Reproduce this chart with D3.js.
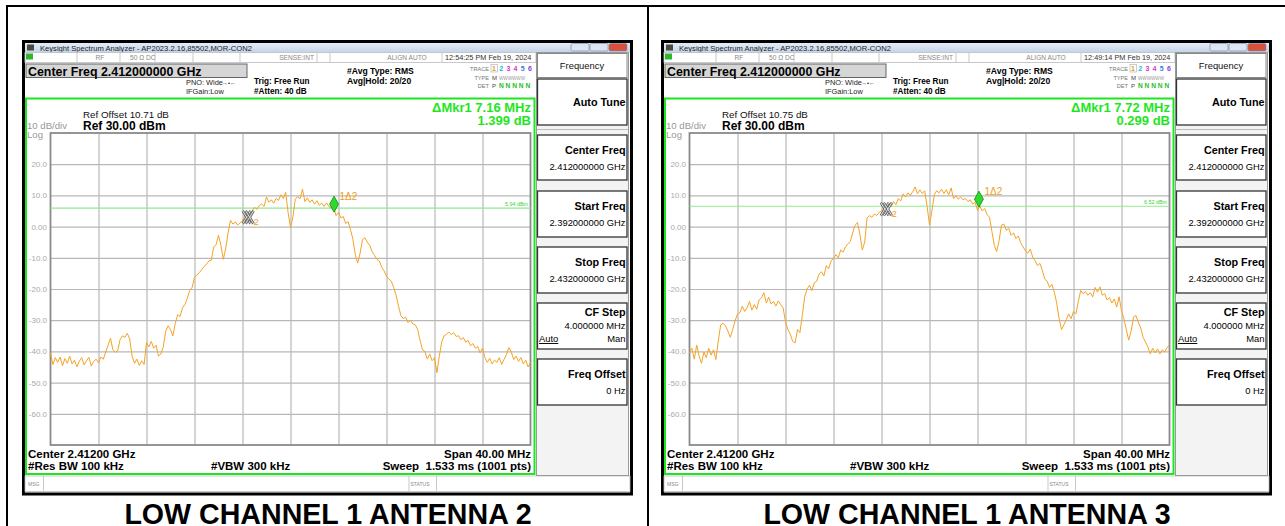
<!DOCTYPE html>
<html>
<head>
<meta charset="utf-8">
<script src="https://cdn.jsdelivr.net/npm/d3@7"></script>
<style>
  body { margin: 0; background: #fff; }
  text { font-family: "Liberation Sans", Arial, sans-serif; }
</style>
</head>
<body>
<div id="chart"></div>
<script>
// Sweep: 2.392 GHz .. 2.432 GHz, values read every 0.2 MHz
const startMHz = 0;
const stopMHz = 40;
const stepMHz = 0.2;

// trace levels (dBm), antenna 2
const levelsAnt2 = [
  -40.5, -44.2, -42.0, -43.5, -41.8, -44.6, -42.3, -43.8, -41.5, -44.0,
  -42.8, -44.9, -43.1, -42.0, -44.3, -43.0, -41.9, -44.7, -43.2, -42.5,
  -43.6, -41.8, -42.5, -40.2, -38.0, -35.8, -39.5, -40.3, -39.8, -36.2,
  -35.0, -35.5, -34.2, -36.0, -41.5, -43.8, -42.5, -44.5, -43.0, -44.2,
  -37.2, -38.5, -36.8, -39.0, -38.0, -41.5, -40.8, -38.5, -33.5, -31.8,
  -33.0, -35.0, -31.0, -28.2, -28.8, -26.0, -25.0, -23.0, -20.5, -19.5,
  -16.2, -15.5, -14.8, -13.8, -12.8, -12.0, -11.0, -10.8, -6.5, -5.8,
  -2.8, -6.0, -10.5, -7.0, -2.0, 2.0, 0.8, 1.5, 0.5, 1.2,
  1.8, 3.5, 2.8, 4.5, 5.0, 6.2, 5.5, 6.8, 7.2, 6.5,
  9.5, 7.8, 8.6, 7.5, 9.0, 8.4, 10.2, 9.0, 11.0, 4.5,
  -0.3, 3.0, 8.8, 9.6, 8.9, 12.0, 8.0, 9.2, 7.8, 8.6,
  7.2, 8.3, 6.8, 7.5, 6.5, 7.6, 6.4, 6.0, 6.2, 3.5,
  4.6, 2.8, 3.2, 1.0, 1.6, -1.0, -4.0, -9.0, -11.7, -8.5,
  -4.2, -3.6, -5.0, -6.0, -8.0, -9.2, -10.5, -11.0, -13.0, -14.2,
  -16.0, -16.8, -17.5, -19.5, -22.0, -25.5, -28.5, -29.5, -29.0, -30.8,
  -30.0, -31.2, -31.5, -33.0, -36.5, -39.5, -40.0, -42.5, -40.8, -43.0,
  -42.0, -46.8, -41.5, -37.0, -35.0, -34.5, -33.8, -34.6, -34.0, -35.2,
  -35.0, -36.2, -35.6, -37.0, -36.5, -38.2, -37.5, -39.0, -38.4, -40.5,
  -39.0, -42.0, -43.5, -42.2, -44.0, -42.8, -43.5, -42.0, -44.2, -42.5,
  -41.0, -38.8, -40.2, -42.6, -41.5, -43.2, -42.0, -44.0, -42.8, -45.0,
  -43.5
];

// trace levels (dBm), antenna 3
const levelsAnt3 = [
  -40.5, -39.0, -42.5, -38.0, -41.5, -43.8, -40.2, -42.0, -39.0, -41.2,
  -39.5, -42.6, -36.5, -31.5, -31.0, -31.8, -33.5, -35.5, -33.0, -30.2,
  -28.0, -27.6, -25.5, -27.2, -26.0, -24.0, -26.8, -25.0, -26.5, -23.5,
  -22.8, -21.2, -24.5, -22.6, -24.8, -24.0, -25.5, -23.8, -25.0, -26.0,
  -30.5, -33.0, -34.5, -36.8, -37.3, -33.0, -34.0, -28.5, -22.5, -20.0,
  -18.8, -20.5, -18.0, -17.5, -15.2, -14.5, -15.8, -12.5, -13.5, -11.0,
  -10.2, -9.0, -10.0, -7.5, -8.2, -6.5, -5.5, -4.8, -2.0, 0.4,
  1.3, -2.5, -7.5, -5.0, 2.8, 3.5, 3.0, 4.0, 3.6, 4.5,
  5.0, 6.0, 5.5, 7.2, 6.4, 8.0, 7.0, 9.0, 8.2, 10.5,
  9.5, 10.8, 10.0, 11.2, 12.7, 10.5, 11.8, 10.6, 11.5, 6.5,
  0.5, 5.0, 10.2, 11.5, 10.8, 12.0, 10.6, 11.8, 10.2, 12.4,
  9.0, 9.8, 8.8, 9.5, 8.6, 9.0, 8.0, 8.6, 7.2, 7.8,
  5.2, 6.5, 5.0, 5.8, 3.8, 3.0, -1.5, -6.0, -8.0, -4.5,
  0.5, 0.8, -1.2, -0.5, -2.8, -2.0, -3.8, -3.0, -5.2, -6.5,
  -7.8, -8.5, -7.2, -9.8, -11.0, -12.5, -11.8, -14.0, -16.8, -17.5,
  -19.5, -18.5, -21.0, -24.5, -29.5, -33.0, -31.5, -29.8, -28.0, -29.5,
  -27.2, -28.0, -24.0, -20.5, -21.5, -20.8, -22.0, -21.2, -22.5, -19.5,
  -21.0, -19.3, -22.0, -21.5, -23.5, -22.8, -24.5, -23.2, -25.8, -22.5,
  -27.0, -29.5, -33.0, -36.4, -33.5, -29.0, -28.5, -30.6, -32.5, -35.5,
  -37.0, -38.6, -40.8, -39.0, -40.5, -39.2, -40.8, -39.5, -40.2, -38.8,
  -37.8
];

const yTicks = [20, 10, 0, -10, -20, -30, -40, -50, -60];
const captions = ["LOW CHANNEL 1 ANTENNA 2", "LOW CHANNEL 1 ANTENNA 3"];
const refOffsets = ["Ref Offset 10.71 dB", "Ref Offset 10.75 dB"];
const timestamps = ["12:54:25 PM Feb 19, 2024", "12:49:14 PM Feb 19, 2024"];
const deltaFreqs = ["\u0394Mkr1 7.16 MHz", "\u0394Mkr1 7.72 MHz"];
const deltaLevels = ["1.399 dB", "0.299 dB"];
const displayLines = [5.94, 6.52];
// marker positions (MHz from start, dBm)
const refMarkers = [[16.47, 3.0], [16.4, 5.6]];
const deltaMarkers = [[23.63, 7.2], [24.12, 8.8]];
const traceData = [levelsAnt2, levelsAnt3];
const panelShift = [0, 639];

const svg = d3.select("#chart").append("svg")
  .attr("width", 1285)
  .attr("height", 526);

const defs = svg.append("defs");
const tg = defs.append("linearGradient").attr("id", "titleGrad")
  .attr("x1", 0).attr("y1", 0).attr("x2", 0).attr("y2", 1);
tg.append("stop").attr("offset", "0%").attr("stop-color", "#e4edf8");
tg.append("stop").attr("offset", "100%").attr("stop-color", "#c3d3ea");

// outer table frame
svg.append("line").attr("x1", 6).attr("x2", 1285).attr("y1", 6).attr("y2", 6)
  .attr("stroke", "#000").attr("stroke-width", 2);
svg.append("line").attr("x1", 7).attr("x2", 7).attr("y1", 5).attr("y2", 526)
  .attr("stroke", "#000").attr("stroke-width", 2);
svg.append("line").attr("x1", 648).attr("x2", 648).attr("y1", 5).attr("y2", 526)
  .attr("stroke", "#000").attr("stroke-width", 2);

function txt(g, x, y, s, o) {
  o = o || {};
  return g.append("text")
    .attr("x", x).attr("y", y)
    .attr("font-size", o.size || 8)
    .attr("font-weight", o.bold ? "bold" : "normal")
    .attr("text-anchor", o.anchor || "start")
    .attr("fill", o.color || "#000")
    .text(s);
}

function drawPanel(k) {
  const g = svg.append("g").attr("transform", `translate(${panelShift[k]},0)`);

  // window
  g.append("rect").attr("x", 23.5).attr("y", 41.5).attr("width", 608).attr("height", 452.5)
    .attr("fill", "#fff").attr("stroke", "#000").attr("stroke-width", 3);
  g.append("rect").attr("x", 25).attr("y", 43).attr("width", 605).attr("height", 9.5)
    .attr("fill", "url(#titleGrad)");
  g.append("rect").attr("x", 27).attr("y", 44.5).attr("width", 7).attr("height", 6)
    .attr("fill", "#4a4a3a");
  txt(g, 40, 50.5, "Keysight Spectrum Analyzer - AP2023.2.16,85502,MOR-CON2", { size: 7.6, color: "#222" });
  [[571, "#dce6f2"], [590, "#dce6f2"], [609, "#d8503c"]].forEach(b => {
    g.append("rect").attr("x", b[0]).attr("y", 43.5).attr("width", 18).attr("height", 7.5).attr("rx", 1.5)
      .attr("fill", b[1]).attr("stroke", "#7d8ea8").attr("stroke-width", 0.7);
  });

  // status row
  g.append("rect").attr("x", 25).attr("y", 52.5).attr("width", 511).attr("height", 10)
    .attr("fill", "#fff").attr("stroke", "#bbb").attr("stroke-width", 0.8);
  [77, 120, 155, 193, 240, 317, 330, 442].forEach(x => {
    g.append("line").attr("x1", x).attr("x2", x).attr("y1", 53).attr("y2", 62)
      .attr("stroke", "#bbb").attr("stroke-width", 0.8);
  });
  g.append("rect").attr("x", 26).attr("y", 53.5).attr("width", 7).attr("height", 6).attr("fill", "#2fb52f");
  txt(g, 100, 60, "RF", { size: 6.6, color: "#888", anchor: "middle" });
  txt(g, 130, 60, "50 \u03A9", { size: 6.6, color: "#888" });
  txt(g, 146, 60, "DC", { size: 6.6, color: "#888" });
  txt(g, 314, 60, "SENSE:INT", { size: 6.6, color: "#888", anchor: "end" });
  txt(g, 407, 60, "ALIGN AUTO", { size: 6.6, color: "#888", anchor: "middle" });
  txt(g, 445, 60, timestamps[k], { size: 7.3, color: "#333" });

  // center freq box
  g.append("rect").attr("x", 26).attr("y", 64).attr("width", 221).attr("height", 13.5)
    .attr("fill", "#d6d6d6").attr("stroke", "#666").attr("stroke-width", 1);
  txt(g, 28, 75.5, "Center Freq 2.412000000 GHz", { size: 12.4, bold: true });

  txt(g, 186, 84.5, "PNO: Wide", { size: 7.4, color: "#222" });
  txt(g, 222, 84.5, "\u2192\u2022\u2190", { size: 6, color: "#222" });
  txt(g, 186, 94, "IFGain:Low", { size: 7.4, color: "#222" });
  txt(g, 254, 83.5, "Trig: Free Run", { size: 8.2, bold: true });
  txt(g, 254, 94, "#Atten: 40 dB", { size: 8.2, bold: true });
  txt(g, 347, 73.5, "#Avg Type: RMS", { size: 8.6, bold: true });
  txt(g, 347, 84, "Avg|Hold: 20/20", { size: 8.6, bold: true });

  // trace block
  txt(g, 489, 71, "TRACE", { size: 5.6, color: "#777", anchor: "end" });
  txt(g, 489, 79.5, "TYPE", { size: 5.6, color: "#777", anchor: "end" });
  txt(g, 489, 88, "DET", { size: 5.6, color: "#777", anchor: "end" });
  const trCols = ["#e89a10", "#10b8e0", "#e030d0", "#d040c0", "#3a7be8", "#8a40e0"];
  g.append("rect").attr("x", 491).attr("y", 64.5).attr("width", 6.5).attr("height", 7.5)
    .attr("fill", "none").attr("stroke", "#aaa").attr("stroke-width", 0.6);
  trCols.forEach((c, i) => txt(g, 492 + i * 7.2, 71.2, String(i + 1), { size: 7, color: c, bold: true }));
  txt(g, 492, 79.5, "M", { size: 6, color: "#444" });
  txt(g, 499, 79.5, "WWWWWW", { size: 4.6, color: "#999" });
  txt(g, 492, 88, "P", { size: 6, color: "#444" });
  txt(g, 499, 88, "N N N N N", { size: 6.6, color: "#22c022", bold: true });

  // green graticule frame
  g.append("rect").attr("x", 26).attr("y", 98.5).attr("width", 508.5).attr("height", 375.5)
    .attr("fill", "none").attr("stroke", "#1ee61e").attr("stroke-width", 2);

  txt(g, 83, 118, refOffsets[k], { size: 9.8, color: "#111" });
  txt(g, 83, 129.5, "Ref 30.00 dBm", { size: 12, bold: true });
  txt(g, 27, 129, "10 dB/div", { size: 9.6, color: "#999" });
  txt(g, 27, 137.5, "Log", { size: 9.6, color: "#999" });
  txt(g, 531, 111.5, deltaFreqs[k], { size: 13, bold: true, color: "#1ee61e", anchor: "end" });
  txt(g, 531, 124.5, deltaLevels[k], { size: 13, bold: true, color: "#1ee61e", anchor: "end" });

  // plot scales
  const x = d3.scaleLinear().domain([startMHz, stopMHz]).range([50.5, 530.5]);
  const y = d3.scaleLinear().domain([-70, 30]).range([445, 133]);

  const grid = g.append("g");
  grid.append("g").attr("transform", "translate(0,445)")
    .call(d3.axisBottom(x).tickValues(d3.range(4, 40, 4)).tickSize(-312).tickFormat(""))
    .call(a => a.select(".domain").remove())
    .call(a => a.selectAll("line").attr("stroke", "#b8b8b8").attr("stroke-width", 1.2));
  grid.append("g").attr("transform", "translate(50.5,0)")
    .call(d3.axisLeft(y).tickValues(yTicks).tickSize(-480)
      .tickFormat(d => d === 0 ? "0.00" : d.toFixed(1)))
    .call(a => a.select(".domain").remove())
    .call(a => a.selectAll("line").attr("stroke", "#b8b8b8").attr("stroke-width", 1.2))
    .call(a => a.selectAll("text").attr("x", -3.5).attr("fill", "#aaa")
      .attr("font-size", 8).attr("font-family", "Liberation Sans, Arial, sans-serif"));
  g.append("rect").attr("x", 50.5).attr("y", 133).attr("width", 480).attr("height", 312)
    .attr("fill", "none").attr("stroke", "#8a8a8a").attr("stroke-width", 1.8);

  // display line
  g.append("line").attr("x1", x(startMHz)).attr("x2", x(stopMHz))
    .attr("y1", y(displayLines[k])).attr("y2", y(displayLines[k]))
    .attr("stroke", "#8fea8f").attr("stroke-width", 1.2);
  txt(g, 528, y(displayLines[k]) - 2, displayLines[k].toFixed(2) + " dBm", { size: 5.4, color: "#3ad23a", anchor: "end" });

  // trace
  const line = d3.line()
    .x((d, i) => x(startMHz + i * stepMHz))
    .y(d => y(d));
  g.append("path").datum(traceData[k])
    .attr("d", line)
    .attr("fill", "none")
    .attr("stroke", "#f5a325")
    .attr("stroke-width", 1)
    .attr("stroke-linejoin", "round");

  // reference marker (2)
  const mx = x(refMarkers[k][0]), my = y(refMarkers[k][1]);
  [-1.5, 1.5].forEach(o => {
    const p = `M${mx + o - 4},${my - 6.5}L${mx + o + 4},${my + 6.5}M${mx + o - 4},${my + 6.5}L${mx + o + 4},${my - 6.5}`;
    g.append("path").attr("d", p).attr("stroke", "#666").attr("stroke-width", 2.6).attr("fill", "none");
    g.append("path").attr("d", p).attr("stroke", "#e6e6e6").attr("stroke-width", 1).attr("fill", "none");
  });
  txt(g, mx + 5.5, my + 8, "2", { size: 9, color: "#f0a020" });

  // delta marker (1)
  const dx = x(deltaMarkers[k][0]), dy = y(deltaMarkers[k][1]);
  g.append("path").attr("d", `M${dx},${dy - 8}L${dx + 4.5},${dy}L${dx},${dy + 8}L${dx - 4.5},${dy}Z`)
    .attr("fill", "#30d830").attr("stroke", "#108a10").attr("stroke-width", 0.8);
  txt(g, dx + 5.5, dy - 4, "1\u03942", { size: 10, color: "#f0a020" });

  // bottom annotations
  txt(g, 28, 457.5, "Center 2.41200 GHz", { size: 11.5, bold: true });
  txt(g, 28, 469.5, "#Res BW 100 kHz", { size: 11.5, bold: true });
  txt(g, 211, 469.5, "#VBW 300 kHz", { size: 11.5, bold: true });
  txt(g, 531, 457.5, "Span 40.00 MHz", { size: 11.5, bold: true, anchor: "end" });
  txt(g, 531, 469.5, "Sweep  1.533 ms (1001 pts)", { size: 11.5, bold: true, anchor: "end" }).attr("xml:space", "preserve");

  // message row
  g.append("rect").attr("x", 25).attr("y", 476).attr("width", 605).attr("height", 15.5)
    .attr("fill", "#fff").attr("stroke", "#bbb").attr("stroke-width", 0.8);
  [43.5, 409, 436.5].forEach(v => {
    g.append("line").attr("x1", v).attr("x2", v).attr("y1", 476).attr("y2", 491.5)
      .attr("stroke", "#bbb").attr("stroke-width", 0.8);
  });
  txt(g, 28, 485.5, "MSG", { size: 5, color: "#888" });
  txt(g, 410.5, 485.5, "STATUS", { size: 5, color: "#888" });

  // softkey panel
  g.append("rect").attr("x", 536.5).attr("y", 52.5).attr("width", 92).attr("height", 423)
    .attr("fill", "#f3f3f3").attr("stroke", "#999").attr("stroke-width", 1);
  g.append("rect").attr("x", 537.5).attr("y", 53.5).attr("width", 89.5).attr("height", 24)
    .attr("fill", "#fff").attr("stroke", "#888").attr("stroke-width", 1);
  txt(g, 582, 69, "Frequency", { size: 9.4, color: "#111", anchor: "middle" });
  const keys = [
    { y0: 79, y1: 125, title: "Auto Tune", ty: 106 },
    { y0: 135, y1: 180, title: "Center Freq", ty: 154, val: "2.412000000 GHz" },
    { y0: 191, y1: 237, title: "Start Freq", ty: 210, val: "2.392000000 GHz" },
    { y0: 247, y1: 293, title: "Stop Freq", ty: 266, val: "2.432000000 GHz" },
    { y0: 303, y1: 349, title: "CF Step", ty: 316, val: "4.000000 MHz", vy: 329, auto: true },
    { y0: 359, y1: 405, title: "Freq Offset", ty: 378, val: "0 Hz" }
  ];
  keys.forEach(s => {
    g.append("rect").attr("x", 537.5).attr("y", s.y0).attr("width", 89.5).attr("height", s.y1 - s.y0)
      .attr("fill", "#fff").attr("stroke", "#333").attr("stroke-width", 1.3);
    txt(g, 625.5, s.ty, s.title, { size: 10.8, bold: true, anchor: "end" });
    if (s.val) txt(g, 625.5, s.vy || s.ty + 16, s.val, { size: 9.4, anchor: "end" });
    if (s.auto) {
      txt(g, 539, 342, "Auto", { size: 9.4 }).attr("text-decoration", "underline");
      txt(g, 625.5, 342, "Man", { size: 9.4, anchor: "end" });
    }
  });
  g.append("line").attr("x1", 537).attr("x2", 628).attr("y1", 129.5).attr("y2", 129.5)
    .attr("stroke", "#bbb").attr("stroke-width", 1);

  // caption
  txt(g, 328, 523.5, captions[k], { size: 28.6, bold: true, anchor: "middle" });
}

drawPanel(0);
drawPanel(1);
</script>
</body>
</html>
